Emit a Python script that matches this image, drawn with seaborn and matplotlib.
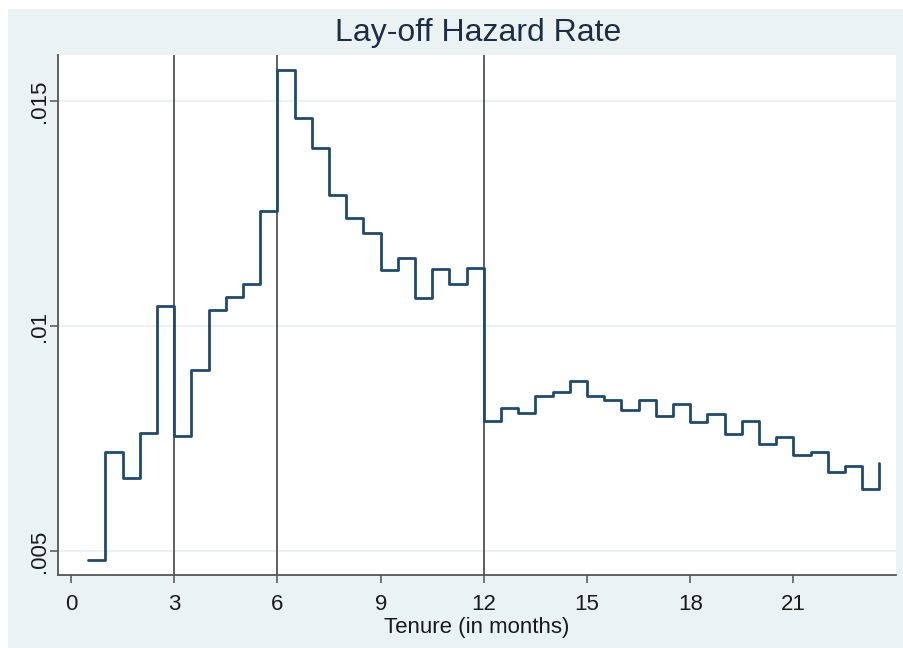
import matplotlib
matplotlib.use("Agg")
import matplotlib.pyplot as plt
import seaborn as sns
import pandas as pd
from matplotlib.patches import Rectangle

# ---- data ----
tenure = [0.5, 1.0, 1.5, 2.0, 2.5, 3.0, 3.5, 4.0, 4.5, 5.0, 5.5, 6.0,
          6.5, 7.0, 7.5, 8.0, 8.5, 9.0, 9.5, 10.0, 10.5, 11.0, 11.5, 12.0,
          12.5, 13.0, 13.5, 14.0, 14.5, 15.0, 15.5, 16.0, 16.5, 17.0, 17.5, 18.0,
          18.5, 19.0, 19.5, 20.0, 20.5, 21.0, 21.5, 22.0, 22.5, 23.0, 23.5]
hazard = [0.00479, 0.00719, 0.00663, 0.00763, 0.01045, 0.00756, 0.00902, 0.01036,
          0.01064, 0.01093, 0.01256, 0.01569, 0.01462, 0.01396, 0.01291, 0.01239,
          0.01207, 0.01124, 0.01152, 0.01063, 0.01126, 0.01093, 0.01130, 0.00790,
          0.00817, 0.00806, 0.00844, 0.00854, 0.00878, 0.00845, 0.00836, 0.00813,
          0.00836, 0.00800, 0.00826, 0.00787, 0.00804, 0.00759, 0.00790, 0.00737,
          0.00753, 0.00713, 0.00720, 0.00676, 0.00690, 0.00637, 0.00695]
ref_lines = [3, 6, 12]
x_ticks = [0, 3, 6, 9, 12, 15, 18, 21]
y_ticks = [0.005, 0.010, 0.015]
y_tick_labels = [".005", ".01", ".015"]
title = "Lay-off Hazard Rate"
x_label = "Tenure (in months)"

df = pd.DataFrame({"tenure": tenure, "hazard": hazard})

sns.set_theme(style="white")
plt.rcParams["font.family"] = ["Liberation Sans", "DejaVu Sans"]

W, H = 904, 648
fig = plt.figure(figsize=(W / 100, H / 100), dpi=100, facecolor="white")
bg = "#EAF2F3"
fig.patches.append(Rectangle((8 / W, 0), 1 - 8 / W, 1 - 9 / H,
                             transform=fig.transFigure, facecolor=bg,
                             edgecolor="none", zorder=-10))

left, right, bottom, top = 58, 896, 575, 55
ax = fig.add_axes([left / W, 1 - bottom / H, (right - left) / W, (bottom - top) / H])
ax.set_zorder(1)
ax.set_facecolor("white")

for xv in ref_lines:
    ax.axvline(xv, color="#444444", lw=1.2, zorder=2)

sns.lineplot(data=df, x="tenure", y="hazard", drawstyle="steps-post",
             color="#1f4a70", lw=2.0, ax=ax, zorder=3)

ax.set_xlim(-0.378, 23.98)
ax.set_ylim(0.004467, 0.016022)
ax.set_xticks(x_ticks)
ax.set_xticklabels([str(t) for t in x_ticks])
ax.set_yticks(y_ticks)
ax.set_yticklabels(y_tick_labels, rotation=90, va="center")

ax.yaxis.grid(True, color=bg, lw=1.5)
ax.set_axisbelow(True)

for s in ["top", "right"]:
    ax.spines[s].set_visible(False)
for s in ["left", "bottom"]:
    ax.spines[s].set_color("#555555")
    ax.spines[s].set_linewidth(1.3)

ax.tick_params(axis="x", direction="out", length=6, width=1.1, color="#555555",
               labelsize=16, pad=8, labelcolor="#1a1a1a", bottom=True)
ax.tick_params(axis="y", direction="out", length=6, width=1.1, color="#555555",
               labelsize=16, pad=0, labelcolor="#1a1a1a", left=True)

ax.set_xlabel(x_label, fontsize=16, color="#1a1a1a", labelpad=1)
ax.set_ylabel("")

fig.text(478 / W, 1 - 33 / H, title, ha="center", va="center",
         fontsize=23, color="#1e2d45", zorder=5)

fig.savefig("out.png", dpi=100, facecolor=fig.get_facecolor())
